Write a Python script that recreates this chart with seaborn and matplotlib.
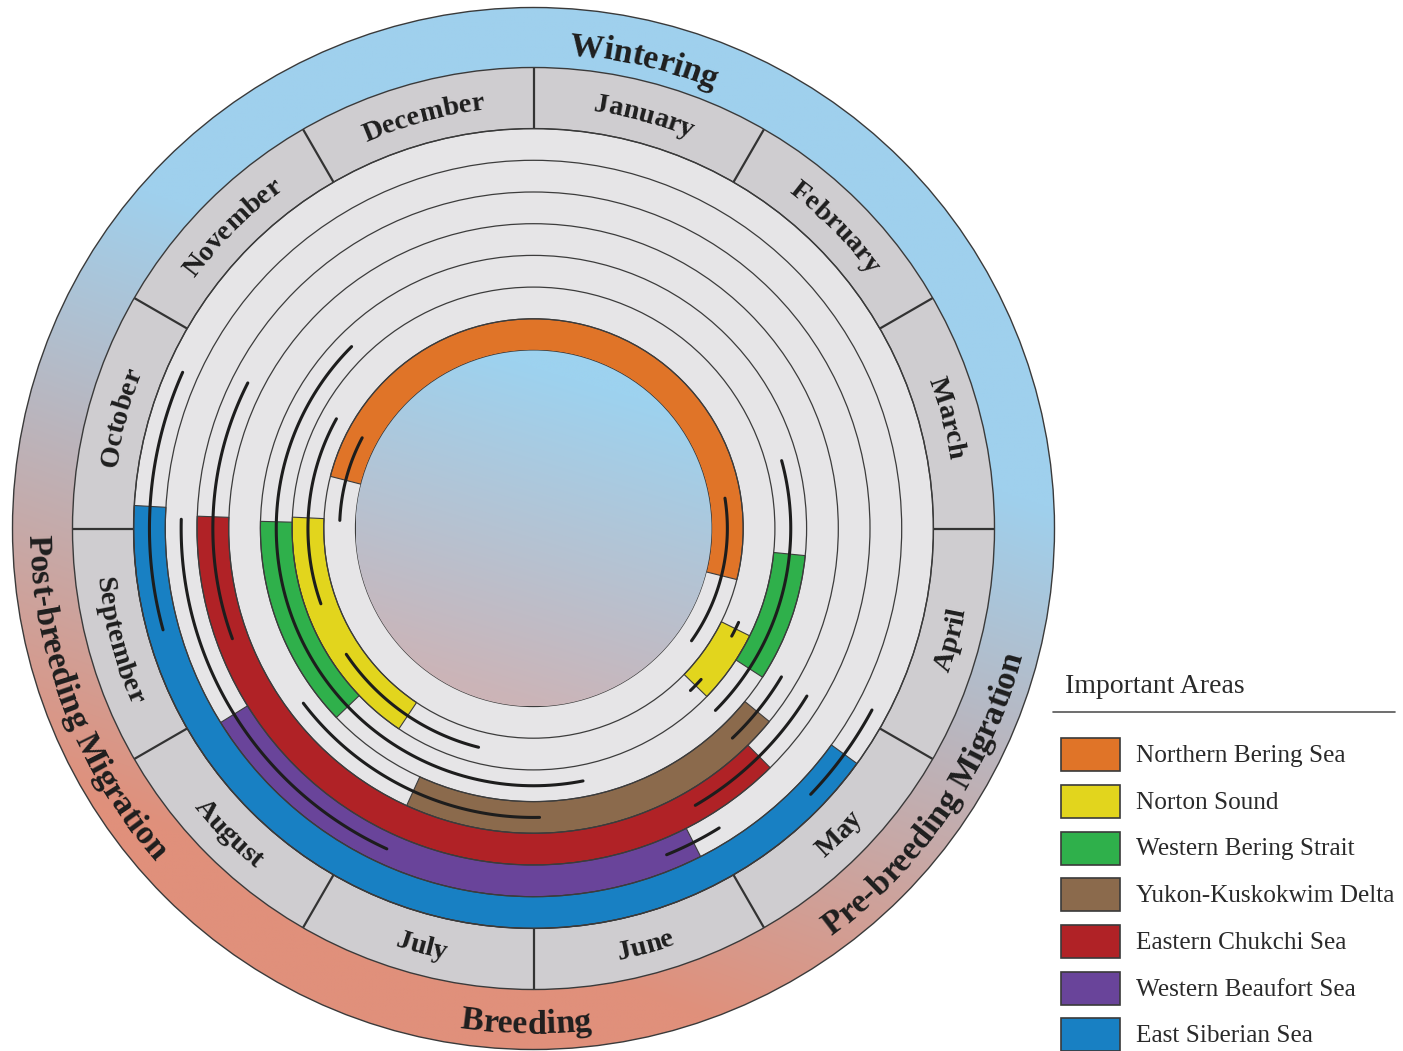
import matplotlib
matplotlib.use("Agg")
import numpy as np
import pandas as pd
import matplotlib.pyplot as plt
import seaborn as sns
from matplotlib.patches import Wedge, Circle, Rectangle
from matplotlib.colors import to_rgb
from matplotlib.font_manager import FontProperties

# ---------------- data ----------------
months = ["January", "February", "March", "April", "May", "June", "July",
          "August", "September", "October", "November", "December"]
phases = ["Wintering", "Pre-breeding Migration", "Breeding", "Post-breeding Migration"]
phase_pos = [0.44, 4.14, 6.03, 8.30]          # month position of label centre

areas = ["Northern Bering Sea", "Norton Sound", "Western Bering Strait",
         "Yukon-Kuskokwim Delta", "Eastern Chukchi Sea", "Western Beaufort Sea",
         "East Siberian Sea"]
area_colors = ["#e07428", "#e2d51d", "#2fb04b", "#8b6a4c", "#b02226", "#69449a", "#1880c3"]

# important-use periods, month position (0 = 1 Jan ... 12 = 31 Dec), clockwise start -> end
period_area = [0, 1, 1, 2, 2, 3, 4, 5, 6]
period_start = [9.48, 7.13, 3.88, 7.54, 3.19, 4.31, 4.51, 5.10, 4.20]
period_end = [3.47, 9.09, 4.47, 9.05, 4.10, 6.82, 9.07, 7.94, 9.11]

# black range lines (month position)
range_area = [0, 0, 1, 1, 1, 1, 2, 2, 3, 3, 4, 4, 5, 5, 6, 6]
range_start = [9.08, 2.70, 8.35, 6.47, 3.82, 4.40, 5.63, 2.49, 5.96, 4.03, 8.33, 4.05, 6.82, 4.94, 8.49, 3.94]
range_end = [9.93, 4.18, 9.97, 7.87, 3.95, 4.53, 10.50, 4.50, 7.76, 4.55, 9.90, 4.99, 9.05, 5.26, 9.80, 4.46]

# ---------------- layout ----------------
W, H, DPI = 1403, 1051, 100
CX, CY = 533.5, 528.5
R_IN, TW = 178.0, 31.7
R_TR = R_IN + 7 * TW
R_MOUT, R_OUT = 461.0, 521.0

sns.set_theme(style="white")
plt.rcParams['font.family'] = ['Liberation Serif', 'DejaVu Serif']
palette = sns.color_palette(area_colors)

fig = plt.figure(figsize=(W / DPI, H / DPI), dpi=DPI)
fig.patch.set_facecolor("white")
ax = fig.add_axes([0, 0, 1, 1])


def P(xi, yi):
    return xi - CX, CY - yi


def pol(m, r):
    t = np.radians(np.asarray(m) * 30.0)
    return r * np.sin(t), r * np.cos(t)


def gradient(radius, c_top, c_bot, u0, u1, tilt, z):
    n = 500
    g = np.linspace(-radius, radius, n)
    X, Y = np.meshgrid(g, g)
    U = Y + tilt * X
    t = np.clip((u0 - U) / (u0 - u1), 0, 1)[..., None]
    img = (1 - t) * np.array(to_rgb(c_top)) + t * np.array(to_rgb(c_bot))
    im = ax.imshow(img, extent=(-radius, radius, -radius, radius), origin='lower',
                   zorder=z, interpolation='bilinear')
    im.set_clip_path(Circle((0, 0), radius, transform=ax.transData))


# outer phase ring gradient
gradient(R_OUT, "#9fd0ed", "#e0907b", 200, -430, 0.35, 0)
ax.add_patch(Circle((0, 0), R_OUT, fill=False, ec="#3a3a3a", lw=1.0, zorder=8))
# month ring
ax.add_patch(Wedge((0, 0), R_MOUT, 0, 360, width=R_MOUT - R_TR, fc="#cfcdd0", ec="none", zorder=1))
ax.add_patch(Circle((0, 0), R_MOUT, fill=False, ec="#3a3a3a", lw=1.0, zorder=8))
# inner disk
ax.add_patch(Circle((0, 0), R_TR, fc="#e6e5e7", ec="none", zorder=2))

# coloured periods
for a, s, e in zip(period_area, period_start, period_end):
    ts, te = s * 30.0, e * 30.0
    if te < ts:
        te += 360.0
    ro = R_IN + (a + 1) * TW
    ax.add_patch(Wedge((0, 0), ro, 90 - te, 90 - ts, width=TW, fc=palette[a],
                       ec="#3c3c3c", lw=0.8, zorder=3))

# track boundaries
for k in range(8):
    ax.add_patch(Circle((0, 0), R_IN + k * TW, fill=False, ec="#3c3c3c", lw=0.9, zorder=4))

# centre gradient
gradient(R_IN, "#9dd2ef", "#ccb4b7", 160, -180, 0.3, 5)

# black range lines through seaborn
rows = []
for k, (a, s, e) in enumerate(zip(range_area, range_start, range_end)):
    r = R_IN + (a + 0.5) * TW
    mm = np.linspace(s, e, 120)
    xs, ys = pol(mm, r)
    for x, y in zip(xs, ys):
        rows.append((k, x, y))
df = pd.DataFrame(rows, columns=["seg", "x", "y"])
sns.lineplot(data=df, x="x", y="y", units="seg", estimator=None, sort=False,
             color="#1d1d1d", linewidth=2.2, ax=ax, legend=False, zorder=6)

# month dividers
for i in range(12):
    x0, y0 = pol(i, R_TR)
    x1, y1 = pol(i, R_MOUT)
    ax.plot([x0, x1], [y0, y1], color="#333333", lw=1.6, zorder=7, solid_capstyle="butt")
ax.add_patch(Circle((0, 0), R_TR, fill=False, ec="#3a3a3a", lw=1.0, zorder=8))

# ---------------- curved text ----------------
renderer = fig.canvas.get_renderer()


def advances(s, fp):
    w0 = renderer.get_text_width_height_descent("||", fp, ismath=False)[0]
    return np.array([renderer.get_text_width_height_descent("|" + c + "|", fp, ismath=False)[0] - w0
                     for c in s])


def curved_text(s, m_c, r_base, fp, top):
    adv = advances(s, fp)
    L = adv.sum()
    pos = np.cumsum(adv) - adv / 2 - L / 2
    th_c = m_c * 30.0
    for c, p in zip(s, pos):
        if c == " ":
            continue
        d = np.degrees(p / r_base)
        th = th_c + d if top else th_c - d
        x, y = pol(th / 30.0, r_base)
        rot = -th if top else 180 - th
        ax.text(x, y, c, fontproperties=fp, rotation=rot, rotation_mode="anchor",
                ha="center", va="baseline", color="#1e1e1e", zorder=9)


fp_month = FontProperties(family="Liberation Serif", weight="bold", size=20.5)
fp_phase = FontProperties(family="Liberation Serif", weight="bold", size=24.5)

for i, mname in enumerate(months):
    mc = i + 0.5
    top = (mc * 30 < 90) or (mc * 30 > 270)
    curved_text(mname, mc, 421.5 if top else 439.5, fp_month, top)

for pname, pc in zip(phases, phase_pos):
    top = (pc * 30 < 90) or (pc * 30 > 270)
    curved_text(pname, pc, 475 if top else 505, fp_phase, top)

# ---------------- legend ----------------
fp_leg = FontProperties(family="Liberation Serif", size=18.2)
fp_title = FontProperties(family="Liberation Serif", size=20)
tx, ty = P(1065, 693)
ax.text(tx, ty, "Important Areas", fontproperties=fp_title, ha="left", va="baseline", color="#2a2a2a")
lx0, ly = P(1053, 712)
lx1, _ = P(1395, 712)
ax.plot([lx0, lx1], [ly, ly], color="#555555", lw=1.2)
for i, (name, col) in enumerate(zip(areas, palette)):
    yc = 754.6 + i * 46.7
    x0, y0 = P(1061, yc + 16.5)
    ax.add_patch(Rectangle((x0, y0), 59, 33, fc=col, ec="#3a3a3a", lw=1.2, zorder=3))
    xt, yt = P(1136, yc + 7.5)
    ax.text(xt, yt, name, fontproperties=fp_leg, ha="left", va="baseline", color="#2a2a2a")

ax.set_xlim(-CX, W - CX)
ax.set_ylim(-(H - CY), CY)
ax.set_aspect("auto")
ax.set_axis_off()
fig.savefig("out.png", dpi=DPI, facecolor="white")
